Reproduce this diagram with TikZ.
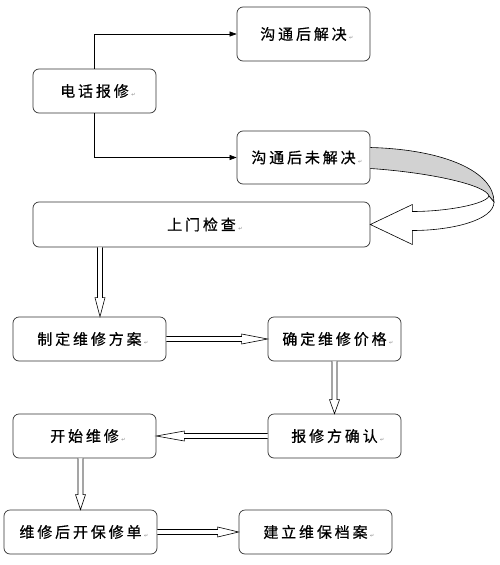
\documentclass[tikz,border=0pt]{standalone}
\usepackage{fontspec}
\newfontfamily\zhfont[LetterSpace=19, FakeBold=0.6]{Noto Sans CJK SC}
\newfontfamily\markfont{DejaVu Sans}
\usetikzlibrary{arrows.meta, calc}

\newcommand{\pmark}{\rlap{\,{\markfont\fontsize{5}{5}\selectfont\textcolor{gray}{↵}}}}

\begin{document}
\begin{tikzpicture}[
  x=1pt, y=-1pt,
  box/.style={rectangle, rounded corners=6pt, draw=black!80, line width=0.7pt, minimum height=44pt, font=\zhfont\fontsize{15}{15}\selectfont},
  arrow/.style={-{Triangle[length=7pt, width=5pt]}, line width=0.6pt},
  hollow/.style={fill=white, line width=0.6pt, to path={
    let \p1=(\tikztostart), \p2=(\tikztotarget), \p3=($(\p2)!#1!(\p1)$) in
    ($(\p1)!2.5pt!90:(\p2)$) -- ($(\p3)!2.5pt!90:(\p2)$) -- ($(\p3)!5pt!90:(\p2)$) -- (\p2)
    -- ($(\p3)!5pt!-90:(\p2)$) -- ($(\p3)!2.5pt!-90:(\p2)$) -- ($(\p1)!2.5pt!-90:(\p2)$)}},
  hollow/.default=20pt
]
\useasboundingbox (0,0) rectangle (500,565);

\node[box, minimum width=123pt] (tel) at (94.5,91) {电话报修\pmark};
\node[box, minimum width=133pt, minimum height=54pt] (ok) at (303.5,34) {沟通后解决\pmark};
\node[box, minimum width=133pt, minimum height=53pt] (nok) at (303.5,157.5) {沟通后未解决\pmark};
\node[box, minimum width=337pt, minimum height=45pt] (visit) at (201.5,224.5) {上门检查\pmark};
\node[box, minimum width=153pt] (plan) at (89.5,339) {制定维修方案\pmark};
\node[box, minimum width=133pt] (price) at (334.5,339) {确定维修价格\pmark};
\node[box, minimum width=143pt] (start) at (84.5,436) {开始维修\pmark};
\node[box, minimum width=133pt] (confirm) at (334.5,436) {报修方确认\pmark};
\node[box, minimum width=153pt] (bill) at (80.5,532) {维修后开保修单\pmark};
\node[box, minimum width=153pt] (archive) at (315.5,532) {建立维保档案\pmark};

% phone call outcomes
\draw[arrow] (tel.north) |- (ok.west);
\draw[arrow] (tel.south) |- (nok.west);

% curved ribbon to on-site check
\filldraw[fill=gray!35, line width=0.6pt] ($(nok.east)+(0,-10)$) .. controls +(75,2) and +(0,-30) .. (494,202)
  -- (489,196) .. controls +(-3,-11) and +(60,4) .. ($(nok.east)+(0,11)$);
\filldraw[fill=white, line width=0.6pt] (489,196) .. controls +(-3,8) and +(35,0) .. ($(visit.east)+(42,-13)$)
  -- ++(0,-7) -- (visit.east) -- ($(visit.east)+(42,20)$) -- ++(0,-14)
  .. controls +(40,0) and +(0,18) .. (494,202) -- cycle;

% repair steps
\coordinate (pin) at ($(plan.north)+(10.5,0)$);
\draw[hollow=19pt] (visit.south -| pin) to (pin);
\draw[hollow=26pt] (plan.east) to (price.west);
\draw[hollow=14pt] (price.south) to (confirm.north);
\draw[hollow=28pt] (confirm.west) to (start.east);
\draw[hollow=15pt] (start.south -| bill.north) to (bill.north);
\draw[hollow=21pt] (bill.east) to (archive.west);

\end{tikzpicture}
\end{document}
